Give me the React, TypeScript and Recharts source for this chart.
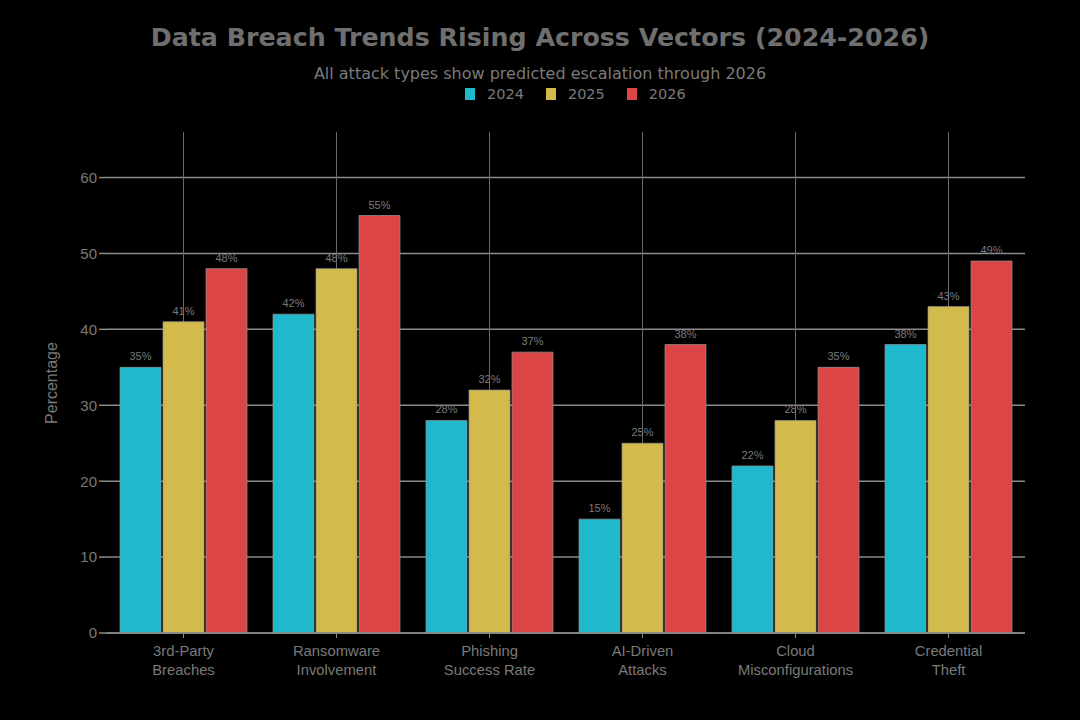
import { Bar, BarChart, CartesianGrid, LabelList, XAxis, YAxis } from 'recharts';

const categories = [
  '3rd-Party\nBreaches',
  'Ransomware\nInvolvement',
  'Phishing\nSuccess Rate',
  'AI-Driven\nAttacks',
  'Cloud\nMisconfigurations',
  'Credential\nTheft',
];
const values2024 = [35, 42, 28, 15, 22, 38];
const values2025 = [41, 48, 32, 25, 28, 43];
const values2026 = [48, 55, 37, 38, 35, 49];
const yTicks = [0, 10, 20, 30, 40, 50, 60];

const series = [
  { key: 'y2024', name: '2024', color: '#1FB8CD' },
  { key: 'y2025', name: '2025', color: '#D2BA4C' },
  { key: 'y2026', name: '2026', color: '#DB4545' },
];

const data = categories.map((label, i) => ({
  label,
  y2024: values2024[i],
  y2025: values2025[i],
  y2026: values2026[i],
}));

const GREY = '#7a7a7a';
const SANS = '"Liberation Sans", Arial, sans-serif';
const DEJAVU = '"DejaVu Sans", sans-serif';

function CategoryTick({ x, y, payload }: any) {
  const lines = String(payload.value).split('\n');
  return (
    <g transform={`translate(${x},${y})`}>
      {lines.map((line, i) => (
        <text key={i} x={0} y={16 + i * 19} textAnchor="middle" fill={GREY} fontSize={14.8} fontFamily={SANS}>
          {line}
        </text>
      ))}
    </g>
  );
}

export default function App() {
  return (
    <div style={{ position: 'absolute', left: 0, top: 0, width: 1080, height: 720, background: '#000', overflow: 'hidden' }}>
      <div
        style={{
          position: 'absolute',
          top: 23,
          width: 1080,
          textAlign: 'center',
          fontFamily: DEJAVU,
          fontWeight: 'bold',
          fontSize: 25.3,
          color: '#6f6f6f',
        }}
      >
        Data Breach Trends Rising Across Vectors (2024-2026)
      </div>
      <div
        style={{
          position: 'absolute',
          top: 64,
          width: 1080,
          textAlign: 'center',
          fontFamily: DEJAVU,
          fontSize: 16,
          color: GREY,
        }}
      >
        All attack types show predicted escalation through 2026
      </div>
      <div
        style={{
          position: 'absolute',
          top: 86,
          left: 465,
          display: 'flex',
          fontFamily: DEJAVU,
          fontSize: 14.5,
          color: GREY,
        }}
      >
        {series.map((s) => (
          <div key={s.key} style={{ display: 'flex', alignItems: 'center', marginRight: 22 }}>
            <span style={{ width: 10, height: 12, background: s.color, display: 'inline-block', marginRight: 12 }} />
            <span>{s.name}</span>
          </div>
        ))}
      </div>
      <div
        style={{
          position: 'absolute',
          left: 52,
          top: 383,
          transform: 'translate(-50%, -50%) rotate(-90deg)',
          fontFamily: SANS,
          fontSize: 16,
          color: GREY,
          whiteSpace: 'nowrap',
        }}
      >
        Percentage
      </div>
      <BarChart
        width={1080}
        height={720}
        data={data}
        margin={{ top: 132, right: 55, bottom: 37, left: 47 }}
        barCategoryGap={13}
        barGap={2}
        style={{ position: 'absolute', left: 0, top: 0 }}
      >
        <CartesianGrid vertical={false} stroke="#8a8a8a" strokeWidth={1.5} syncWithTicks />
        <CartesianGrid horizontal={false} stroke="#6a6a6a" strokeWidth={1} syncWithTicks />
        <XAxis
          dataKey="label"
          interval={0}
          height={50}
          tick={<CategoryTick />}
          axisLine={{ stroke: '#8a8a8a', strokeWidth: 1.5 }}
          tickLine={{ stroke: '#8a8a8a' }}
          tickSize={5}
        />
        <YAxis
          width={60}
          domain={[0, 66]}
          ticks={yTicks}
          axisLine={false}
          tickLine={{ stroke: '#8a8a8a', strokeWidth: 1.5 }}
          tickSize={8}
          tick={{ fill: GREY, fontSize: 15, fontFamily: SANS }}
        />
        {series.map((s) => (
          <Bar
            key={s.key}
            dataKey={s.key}
            name={s.name}
            fill={s.color}
            stroke="rgba(150,150,150,0.7)"
            strokeWidth={1}
            isAnimationActive={false}
          >
            <LabelList
              dataKey={s.key}
              position="top"
              offset={7}
              formatter={(v: any) => `${v}%`}
              fill={GREY}
              fontSize={11}
              fontFamily={SANS}
            />
          </Bar>
        ))}
      </BarChart>
    </div>
  );
}
